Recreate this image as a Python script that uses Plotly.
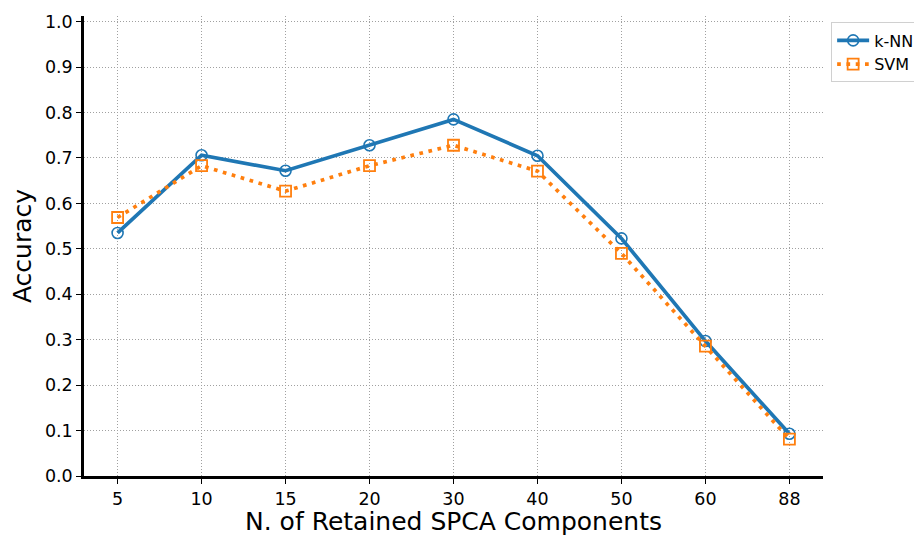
import plotly.graph_objects as go

components = ["5", "10", "15", "20", "30", "40", "50", "60", "88"]
knn_acc = [0.535, 0.706, 0.672, 0.728, 0.785, 0.705, 0.523, 0.297, 0.093]
svm_acc = [0.569, 0.683, 0.627, 0.683, 0.728, 0.671, 0.490, 0.286, 0.081]
y_ticks = [0.0, 0.1, 0.2, 0.3, 0.4, 0.5, 0.6, 0.7, 0.8, 0.9, 1.0]

blue = "#1f77b4"
orange = "#ff7f0e"

fig = go.Figure()
fig.add_trace(go.Scatter(
    x=components, y=knn_acc, name="k-NN", mode="lines+markers",
    line=dict(color=blue, width=3.7),
    marker=dict(symbol="circle-open", size=11, color=blue, line=dict(width=1.6, color=blue)),
))
fig.add_trace(go.Scatter(
    x=components, y=svm_acc, name="SVM", mode="lines+markers",
    line=dict(color=orange, width=3.7, dash="3.7px,5.6px"),
    marker=dict(symbol="square-open", size=11, color=orange, line=dict(width=1.8, color=orange)),
))

# page body has an 8px margin, so the figure is 8px smaller and offset
font_family = "DejaVu Sans"
fig.update_layout(
    width=914, height=528,
    margin=dict(l=76, r=99, t=8, b=60, autoexpand=False),
    plot_bgcolor="white", paper_bgcolor="white",
    font=dict(family=font_family, size=17.5, color="black"),
    showlegend=True,
    legend=dict(
        x=1.011, y=0.986, xanchor="left", yanchor="top",
        bordercolor="#d0d0d0", borderwidth=1, bgcolor="white",
        font=dict(size=16, family=font_family),
        tracegroupgap=2, itemwidth=32,
    ),
)
fig.update_xaxes(
    type="category", range=[-0.4, 8.4], automargin=False,
    title=dict(text="N. of Retained SPCA Components", font=dict(size=25), standoff=4),
    showline=True, linewidth=2.5, linecolor="black", mirror=False,
    ticks="outside", ticklen=5, tickwidth=1.2, tickcolor="black",
    showgrid=True, gridcolor="#a0a0a0", gridwidth=1, griddash="1px,2px",
    tickfont=dict(size=17.5),
)
fig.update_yaxes(
    range=[0, 1.0125], tickvals=y_ticks, ticktext=[f"{v:.1f}" for v in y_ticks],
    automargin=False,
    title=dict(text="Accuracy", font=dict(size=25), standoff=9),
    showline=True, linewidth=2.5, linecolor="black",
    ticks="outside", ticklen=5, tickwidth=1.2, tickcolor="black",
    showgrid=True, gridcolor="#a0a0a0", gridwidth=1, griddash="1px,2px",
    zeroline=False, tickfont=dict(size=17.5),
)

fig.write_html("out.html")
